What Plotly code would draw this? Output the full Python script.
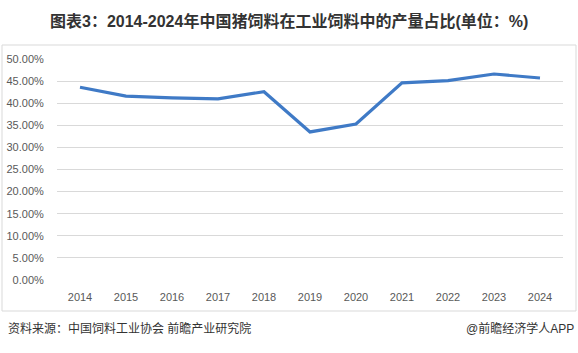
import plotly.graph_objects as go

years = ["2014", "2015", "2016", "2017", "2018", "2019", "2020", "2021", "2022", "2023", "2024"]
share = [43.6, 41.6, 41.2, 41.0, 42.6, 33.5, 35.3, 44.6, 45.1, 46.6, 45.7]
yticks = [0, 5, 10, 15, 20, 25, 30, 35, 40, 45, 50]
ytick_text = [f"{v:.2f}%" for v in yticks]

title = "图表3：2014-2024年中国猪饲料在工业饲料中的产量占比(单位：%)"
source = "资料来源：中国饲料工业协会 前瞻产业研究院"
credit = "@前瞻经济学人APP"

FONT = "Liberation Sans, Noto Sans CJK SC, sans-serif"

fig = go.Figure()
fig.add_trace(go.Scatter(
    x=years, y=share, mode="lines",
    line=dict(color="#3F7AC6", width=3.2),
    hoverinfo="skip",
))

W, H = 578, 353
L, R, T, B = 57, 15, 59, 73
pw = W - L - R
ph = H - T - B

def px2x(px):
    return (px - L) / pw

def px2y(py):
    return (H - B - py) / ph

fig.update_layout(
    width=W, height=H,
    margin=dict(l=L, r=R, t=T, b=B, autoexpand=False),
    paper_bgcolor="white", plot_bgcolor="white",
    showlegend=False,
    font=dict(family=FONT, color="#595959", size=11),
    xaxis=dict(
        type="category", range=[-0.5, len(years) - 0.5],
        showgrid=False, zeroline=False, showline=False, automargin=False,
        ticks="outside", ticklen=7, tickcolor="rgba(0,0,0,0)",
        tickfont=dict(size=11, color="#595959"),
    ),
    yaxis=dict(
        range=[0, 50], tickvals=yticks, ticktext=ytick_text,
        showgrid=True, gridcolor="#D9D9D9", gridwidth=1,
        zeroline=False, showline=False, automargin=False,
        ticks="outside", ticklen=10, tickcolor="rgba(0,0,0,0)",
        tickfont=dict(size=11, color="#595959"),
    ),
    shapes=[dict(
        type="rect", xref="paper", yref="paper",
        x0=px2x(2), x1=px2x(576), y0=px2y(311), y1=px2y(45),
        line=dict(color="#D9D9D9", width=1), fillcolor="rgba(0,0,0,0)",
        layer="below",
    )],
    annotations=[
        dict(text="<b>" + title + "</b>", xref="paper", yref="paper",
             x=px2x(289), y=px2y(21), xanchor="center", yanchor="middle",
             showarrow=False, font=dict(size=16, color="#333333", family=FONT)),
        dict(text=source, xref="paper", yref="paper",
             x=px2x(6), y=px2y(328), xanchor="left", yanchor="middle",
             showarrow=False, font=dict(size=12, color="#333333", family=FONT)),
        dict(text=credit, xref="paper", yref="paper",
             x=px2x(576), y=px2y(328), xanchor="right", yanchor="middle",
             showarrow=False, font=dict(size=12, color="#333333", family=FONT)),
    ],
)

fig.write_html("out.html")
